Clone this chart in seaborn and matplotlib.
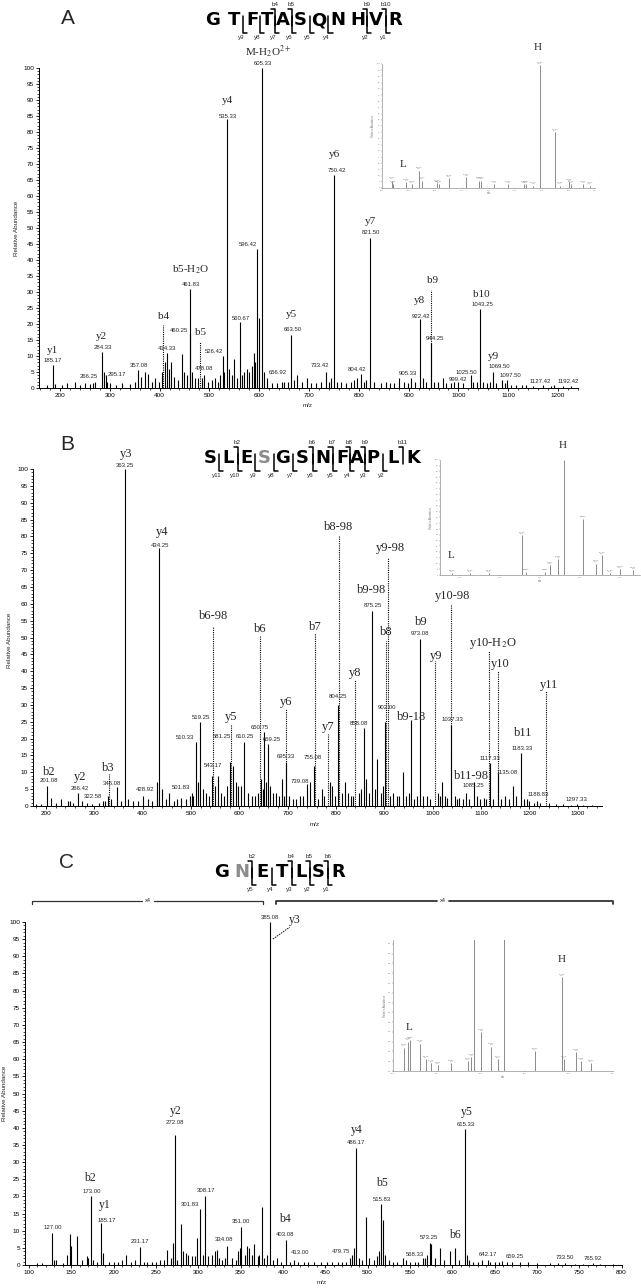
import matplotlib
matplotlib.use("Agg")
import matplotlib.pyplot as plt
import pandas as pd
import seaborn as sns
from matplotlib.lines import Line2D
from matplotlib.ticker import MultipleLocator

W, H = 641, 1288

# ---------------- panel A : GTFTASQNHVR ----------------
a_seq = "GTFTASQNHVR"
a_ycuts = [2, 3, 4, 5, 6, 7, 9, 10]
a_bcuts = [4, 5, 9, 10]
a_mz = [185.17, 266.25, 284.33, 295.17, 357.08, 414.33, 460.25, 461.83, 478.08, 526.42,
        535.33, 560.67, 596.42, 605.33, 656.92, 663.50, 733.42, 750.42, 804.42, 821.50,
        905.33, 922.42, 944.25, 999.42, 1025.50, 1043.25, 1069.50, 1097.50, 1127.42, 1192.42]
a_int = [7.1, 1.5, 11.3, 2.0, 5.5, 11.0, 17.0, 31.0, 3.0, 10.0,
         84.0, 20.5, 43.5, 100.0, 2.0, 16.7, 5.0, 66.5, 4.5, 46.8,
         3.0, 21.5, 14.0, 2.0, 4.0, 24.8, 5.0, 2.5, 1.0, 1.0]
a_noise_mz = [175, 190, 205, 215, 230, 240, 250, 260, 270, 288, 292, 300, 312, 325, 340, 350, 362,
              370, 376, 385, 390, 398, 405, 410, 418, 422, 430, 437, 445, 450, 455, 466, 472, 485,
              490, 498, 505, 512, 518, 522, 530, 540, 546, 550, 555, 565, 570, 575, 580, 585, 589,
              592, 600, 610, 615, 625, 635, 645, 650, 670, 676, 685, 695, 705, 715, 725, 740, 745,
              757, 765, 775, 785, 790, 797, 810, 815, 830, 845, 855, 862, 870, 880, 890, 898, 912,
              928, 935, 950, 958, 968, 975, 985, 992, 1010, 1030, 1037, 1050, 1058, 1063, 1075,
              1088, 1093, 1105, 1115, 1135, 1150, 1170, 1185, 1210, 1225]
a_noise_int = [1, 1.2, 0.8, 1.5, 2, 1, 1.5, 1.2, 2, 5, 4, 1.5, 1, 1.5, 1.2, 2, 3.5,
               5, 4.5, 2, 3, 2, 5, 8, 6, 8, 3.5, 2.5, 10.5, 5, 4, 5, 3, 3,
               4, 2, 2.5, 3, 2, 4, 5, 6, 4, 9, 3, 4, 5, 6, 5, 7, 11,
               8, 22, 5, 3, 1.5, 1.5, 2, 2, 2.5, 4, 2, 3, 1.5, 1.5, 2, 2, 3,
               2, 2, 1.5, 2, 2.5, 3, 2, 2.5, 2, 1.5, 2, 1.5, 1.5, 3, 2, 1.5, 2,
               3, 2, 2, 2, 3, 1.5, 1.5, 2, 1.5, 2, 2, 2, 1.5, 2, 1.5,
               2.5, 1.5, 1, 1, 0.8, 0.7, 0.8, 0.6, 0.5, 0.5]
a_dot_mz = [407, 481, 945]
a_dot_top = [19.6, 14.4, 30.5]
a_ions = ["y1", "y2", "b4", "b5-H$_2$O", "b5", "y4", "M-H$_2$O$^{2+}$", "y5", "y6", "y7",
          "y8", "b9", "b10", "y9"]
a_in_mz = [604.75, 604.82, 605.83, 606.25, 606.75, 607.0, 608.13, 608.25, 609.0, 610.33, 611.25,
           611.45, 612.45, 613.5, 614.67, 614.8, 615.38, 615.88, 617.0, 617.38, 618.08, 618.18,
           619.13, 619.63]
a_in_int = [6, 3, 5, 3, 14, 6, 4, 3, 8, 9, 6, 6, 3, 3, 3, 3, 2, 99, 45, 2, 5, 3, 3, 2]

# ---------------- panel B : SLESGSNFAPLK ----------------
b_seq = "SLESGSNFAPLK"
b_ycuts = [1, 2, 3, 4, 5, 6, 7, 8, 9, 10]
b_bcuts = [2, 6, 7, 8, 9, 11]
b_mz = [201.08, 266.42, 322.58, 346.08, 363.25, 428.92, 434.25, 501.83, 510.33, 519.25,
        543.17, 581.25, 610.25, 650.75, 659.25, 695.33, 739.08, 755.08, 804.25, 858.08,
        875.25, 902.00, 973.08, 1037.33, 1085.25, 1117.33, 1135.08, 1183.33, 1188.83, 1297.33]
b_int = [6.0, 4.0, 1.5, 5.5, 100.0, 2.5, 76.5, 4.0, 19.0, 25.0,
         9.0, 13.0, 19.0, 22.0, 18.5, 13.0, 6.5, 12.0, 30.0, 23.0,
         58.0, 25.0, 49.5, 24.0, 7.0, 12.7, 9.7, 15.7, 2.0, 0.5]
b_noise_mz = [180, 190, 210, 220, 230, 245, 250, 256, 275, 285, 295, 310, 318, 328, 335, 355, 370,
              380, 390, 400, 410, 420, 430, 440, 448, 455, 465, 470, 480, 490, 497, 505, 515, 525,
              530, 538, 550, 555, 562, 568, 574, 587, 592, 598, 603, 618, 625, 632, 638, 645, 648,
              655, 663, 670, 675, 682, 688, 692, 702, 710, 718, 725, 731, 745, 762, 770, 775, 787,
              792, 798, 812, 818, 825, 830, 835, 848, 852, 862, 868, 880, 885, 892, 897, 912, 918,
              925, 930, 939, 945, 950, 955, 962, 967, 980, 987, 994, 1010, 1015, 1020, 1025, 1030,
              1045, 1050, 1055, 1063, 1068, 1075, 1092, 1098, 1105, 1110, 1125, 1142, 1150, 1158,
              1165, 1172, 1195, 1200, 1210, 1215, 1222, 1240, 1255, 1270, 1285, 1310, 1330]
b_noise_int = [0.5, 0.5, 2.5, 1, 2, 1.5, 1.5, 1, 1.5, 1, 0.5, 1, 1.5, 3, 2, 1.5, 2,
               1.5, 1.5, 3, 2, 1.5, 7, 5, 2, 4, 1.5, 2, 2.5, 2, 3, 3, 7, 5,
               4, 3, 6, 9, 4, 3, 6, 12, 7, 6, 6, 4, 3, 3, 4, 8, 5,
               7, 6, 4, 4, 3, 8, 3, 3, 2, 2, 3, 3, 7, 2, 5, 3, 7,
               6, 3, 4, 7, 4, 3, 3, 4, 5, 8, 4, 5, 14, 4, 6, 3, 4,
               3, 3, 10, 3, 4, 25.5, 2, 3, 3, 3, 2, 4, 3, 7, 3, 2.5,
               3, 2, 2.5, 2, 4, 2, 3, 2, 2.5, 2, 2, 2, 3, 2,
               6, 3, 2, 1.5, 1, 1.5, 1, 1, 0.5, 0.5, 0.4, 0.3, 0.3]
b_dot_mz = [330, 546, 583, 643, 696, 756, 783, 805, 840, 903, 908, 1005, 1037, 1117, 1135, 1235]
b_dot_top = [9.5, 53, 24.3, 50.7, 28.7, 51.2, 21.4, 80, 37.4, 49, 73.6, 43, 60, 46, 40, 34]
b_ions = ["b2", "y2", "b3", "y3", "y4", "b6-98", "y5", "b6", "y6", "b7", "y7", "b8-98", "y8",
          "b9-98", "b8", "y9-98", "b9-18", "b9", "y9", "y10-98", "b11-98", "y10-H$_2$O", "y10",
          "b11", "y11"]
b_in_mz = [659.58, 660.5, 661.45, 663.08, 663.3, 664.25, 664.5, 664.92, 665.2, 666.13, 666.78,
           667.08, 667.5, 668.0, 668.67]
b_in_int = [2, 1.5, 1.5, 35, 3, 3, 9, 14, 100, 49, 10, 17, 2, 5, 4]

# ---------------- panel C : GNETLSR ----------------
c_seq = "GNETLSR"
c_ycuts = [2, 3, 4, 5, 6]
c_bcuts = [2, 4, 5, 6]
c_mz = [127.00, 173.00, 185.17, 231.17, 272.08, 301.83, 308.17, 334.08, 351.00, 385.08,
        403.08, 413.00, 479.75, 486.17, 515.83, 568.33, 573.25, 615.33, 642.17, 659.25,
        733.50, 765.92]
c_int = [9.4, 20.0, 12.1, 5.3, 38.0, 16.2, 20.2, 5.5, 11.0, 100.0,
         7.3, 1.5, 2.0, 34.0, 17.8, 2.0, 6.5, 39.6, 1.5, 1.2,
         0.5, 0.5]
c_noise_mz = [110, 115, 130, 132, 140, 145, 148, 150, 157, 163, 168, 170, 176, 180, 187, 195, 200,
              205, 210, 215, 220, 225, 236, 240, 245, 250, 255, 260, 263, 268, 270, 275, 279, 282,
              285, 288, 292, 296, 299, 305, 312, 316, 320, 322, 325, 328, 332, 340, 344, 347, 349,
              355, 357, 360, 363, 366, 370, 372, 375, 378, 381, 388, 393, 398, 408, 418, 425, 430,
              437, 445, 452, 458, 465, 470, 475, 482, 484, 490, 493, 498, 502, 507, 511, 514, 518,
              520, 525, 530, 535, 542, 545, 550, 556, 560, 565, 570, 575, 580, 585, 590, 597, 603,
              608, 617, 620, 625, 630, 635, 645, 650, 655, 665, 670, 680, 690, 700, 715, 725, 745,
              755, 775, 790]
c_noise_int = [0.5, 0.5, 1.5, 1.5, 0.5, 3, 9, 5.5, 8.5, 1.5, 2.5, 2, 1.5, 1, 3.5, 1, 1,
               1, 1.5, 3, 1, 1.5, 1, 1, 1, 1, 1.5, 1.5, 4.5, 2, 6.5, 1.5, 12, 4,
               3.5, 3, 2.5, 2.5, 8, 3, 2.5, 3, 4, 4.5, 2, 1.5, 2, 2, 1.5, 4, 5,
               3, 5.5, 5, 3, 6, 2.5, 3, 17, 2, 3, 1.5, 2, 1, 1, 1, 0.8, 0.8,
               1, 0.8, 1, 1, 1, 1, 1, 3, 5, 2, 1.5, 14, 2, 1.5, 2.5, 4, 13,
               3, 1.5, 1, 1, 2, 1.5, 1, 1, 1, 2, 3, 6, 2, 5, 1.5, 4, 5,
               1.5, 3, 1.5, 1, 1, 1.5, 1, 1, 1, 0.8, 0.8, 1, 1, 0.5, 0.5, 0.5, 0.4,
               0.4, 0.3, 0.3]
c_ions = ["b2", "y1", "y2", "y3", "b4", "y4", "b5", "b6", "y5"]
c_in_mz = [500.5, 500.68, 500.76, 501.24, 501.48, 501.74, 502.05, 502.65, 503.41, 503.56, 503.68,
           504.02, 504.47, 504.77, 505.05, 506.44, 507.68, 507.76, 508.33, 508.56, 509.0]
c_in_int = [1.2, 1.5, 1.6, 1.4, 0.6, 0.4, 0.3, 0.4, 0.5, 0.7, 10, 2.0, 1.25, 0.6, 10, 1.0, 4.8,
            0.6, 0.95, 0.5, 0.4]

# label placement (data coordinates), same order as the lists above
a_num_xy = [(186, 8.7), (257, 3.6), (287, 12.8), (315, 4.2), (358, 7.0), (416, 12.3), (438, 18.0),
            (463, 32.4), (489, 6.0), (509, 11.3), (537, 85.0), (564, 21.7), (578, 45.0),
            (608, 101.3), (638, 5.0), (667, 18.2), (721, 6.9), (756, 68.0), (796, 5.8),
            (824, 48.5), (899, 4.5), (925, 22.5), (953, 15.4), (1000, 2.7), (1016, 5.0),
            (1048, 26.0), (1083, 6.6), (1105, 3.8), (1164, 2.1), (1221, 1.9)]
a_ion_xy = [(186, 11.8), (284, 16), (408, 22.4), (463, 37), (483, 17.5), (537, 89.7), (618, 105),
            (665, 23), (752, 73), (823, 52), (921, 27.4), (947, 33.5), (1045, 29.3), (1071, 9.7)]
b_num_xy = [(206, 7.5), (270, 5.2), (297, 2.8), (337, 6.7), (363, 100.9), (405, 5.0), (436, 77.2),
            (480, 5.5), (488, 20.4), (521, 26.3), (546, 12.0), (563, 20.6), (611, 20.6),
            (643, 23.3), (666, 19.6), (697, 14.6), (726, 7.2), (752, 14.3), (804, 32.6),
            (848, 24.6), (876, 59.4), (905, 29.1), (974, 51.3), (1041, 25.8), (1084, 6.2),
            (1119, 14.0), (1154, 10.0), (1185, 17.2), (1218, 3.3), (1298, 1.8)]
b_ion_xy = [(206, 10), (270, 8.7), (328, 11.2), (365, 104.5), (440, 81.3), (546, 56.5), (583, 26.3),
            (643, 52.5), (697, 31), (756, 53), (784, 23.5), (806, 82.8), (840, 39.4), (874, 64),
            (903, 51.6), (912, 76.6), (957, 26.4), (976, 54.6), (1007, 44.5), (1040, 62.4),
            (1080, 9), (1125, 48.3), (1140, 42), (1187, 21.7), (1241, 36)]
c_num_xy = [(128, 10.9), (174, 21.4), (192, 13.1), (231, 6.8), (272, 41.5), (290, 17.5),
            (309, 21.7), (331, 7.3), (351, 12.6), (385, 101.2), (403, 9.0), (420, 3.6),
            (469, 3.8), (486, 35.6), (517, 19.2), (556, 3.2), (573, 7.9), (616, 41.0),
            (642, 3.2), (674, 2.6), (733, 2.1), (766, 2.0)]
c_ion_xy = [(172, 25.3), (190, 17.5), (273, 45), (414, 100.5), (402, 13.3), (487, 39.4),
            (517, 23.9), (603, 8.7), (617, 44.6)]

sns.set_theme(style="ticks")
plt.rcParams["font.family"] = ["Liberation Sans", "DejaVu Sans"]
plt.rcParams["mathtext.fontset"] = "stix"
plt.rcParams["axes.edgecolor"] = "black"
plt.rcParams["xtick.color"] = "black"
plt.rcParams["ytick.color"] = "black"

fig = plt.figure(figsize=(W / 100, H / 100), dpi=100)
fig.patch.set_facecolor("white")


def fx(px):
    return px / W


def fy(py):
    return 1 - py / H


def box(x0, y0, x1, y1):
    return [x0 / W, 1 - y1 / H, (x1 - x0) / W, (y1 - y0) / H]


def fig_line(xs, ys, **kw):
    fig.add_artist(Line2D([fx(x) for x in xs], [fy(y) for y in ys],
                          transform=fig.transFigure, **kw))


def spectrum(rect, xlim, xmajor, xminor, mz, inten, noise_mz, noise_int, dot_mz, dot_top,
             num_xy, ions, ion_xy, ion_size):
    ax = fig.add_axes(rect)
    sticks = pd.DataFrame({"mz": noise_mz + mz, "inten": noise_int + inten})
    ax.vlines(sticks["mz"], 0, sticks["inten"], color="black", lw=0.8)
    ax.vlines(dot_mz, 0, dot_top, color="black", lw=0.8, linestyles=(0, (1, 1)))
    for m, (x, y) in zip(mz, num_xy):
        ax.text(x, y, f"{m:.2f}", ha="center", va="center", fontsize=4.3, clip_on=False)
    for t, (x, y) in zip(ions, ion_xy):
        ax.text(x, y, t, ha="center", va="center", fontsize=ion_size,
                family="Liberation Serif", clip_on=False)
    ax.set_xlim(*xlim)
    ax.set_ylim(0, 100)
    ax.yaxis.set_major_locator(MultipleLocator(5))
    ax.yaxis.set_minor_locator(MultipleLocator(1))
    ax.xaxis.set_major_locator(MultipleLocator(xmajor))
    ax.xaxis.set_minor_locator(MultipleLocator(xminor))
    ax.tick_params(which="major", length=2.5, width=0.6, labelsize=4.6, pad=1)
    ax.tick_params(which="minor", length=1.3, width=0.5)
    sns.despine(ax=ax)
    for s in ("left", "bottom"):
        ax.spines[s].set_linewidth(0.7)
    ax.patch.set_alpha(0)
    return ax


def inset(rect, mz, inten, xlim, ylim, ystep, lpos, hpos):
    ax = fig.add_axes(rect)
    ax.vlines(mz, 0, inten, color="#777777", lw=0.6)
    for m, v in zip(mz, inten):
        if v < ylim[1]:
            ax.text(m, v + (ylim[1] - ylim[0]) * 0.01, f"{m:.2f}\nz=2", fontsize=1.5,
                    ha="center", va="bottom", color="#777777", linespacing=0.9)
    ax.set_xlim(*xlim)
    ax.set_ylim(*ylim)
    ax.yaxis.set_major_locator(MultipleLocator(ystep))
    ax.tick_params(length=0.8, width=0.3, labelsize=1.6, pad=0.5, colors="#777777")
    ax.set_ylabel("Relative Abundance", fontsize=1.8, labelpad=1, color="#777777")
    ax.set_xlabel("m/z", fontsize=1.8, labelpad=0.5, color="#777777")
    sns.despine(ax=ax)
    for s in ("left", "bottom"):
        ax.spines[s].set_linewidth(0.4)
        ax.spines[s].set_color("#777777")
    ax.patch.set_alpha(0)
    for t, (x, y) in (("L", lpos), ("H", hpos)):
        ax.text(x, y, t, fontsize=8, ha="center", va="center", family="Liberation Serif",
                clip_on=False)
    return ax


def sequence(seq, xs, row, gray, ycuts, bcuts):
    for i, (ch, x) in enumerate(zip(seq, xs)):
        fig.text(fx(x), fy(row), ch, ha="center", va="center", fontsize=13, fontweight="bold",
                 family="DejaVu Sans", color="#8c8c8c" if i in gray else "black")
    n = len(seq)
    for k in ycuts:
        xc = (xs[k - 1] + xs[k]) / 2
        fig_line([xc, xc, xc + 4], [row - 4, row + 13, row + 13], color="black", lw=1.1)
        fig.text(fx(xc - 2), fy(row + 18), f"y{n - k}", ha="center", va="center", fontsize=4.5)
    for k in bcuts:
        xc = (xs[k - 1] + xs[k]) / 2
        fig_line([xc - 4, xc, xc], [row - 11, row - 11, row + 6], color="black", lw=1.1)
        fig.text(fx(xc), fy(row - 16), f"b{k}", ha="center", va="center", fontsize=4.5)


# panel A
spectrum(box(39, 68, 578, 388), (158, 1240), 100, 20, a_mz, a_int, a_noise_mz, a_noise_int,
         a_dot_mz, a_dot_top, a_num_xy, a_ions, a_ion_xy, 8)
inset(box(382, 64, 595, 188), a_in_mz, a_in_int, (604, 620), (0, 100), 5,
      (605.6, 19), (615.7, 113))
sequence(a_seq, [213, 234, 252, 267, 283, 300, 319, 338, 358, 376, 395], 20, [], a_ycuts, a_bcuts)
fig.text(fx(68), fy(18), "A", fontsize=15, ha="center", va="center")
fig.text(fx(17), fy(228), "Relative Abundance", rotation=90, fontsize=4.5, ha="center", va="center")
fig.text(fx(308), fy(405), "m/z", fontsize=4.5, ha="center", va="center")

# panel B
spectrum(box(33, 469, 602, 806), (173, 1350), 100, 20, b_mz, b_int, b_noise_mz, b_noise_int,
         b_dot_mz, b_dot_top, b_num_xy, b_ions, b_ion_xy, 9)
inset(box(440, 460, 640, 575), b_in_mz, b_in_int, (659, 669), (0, 100), 5,
      (659.55, 17), (665.15, 113))
sequence(b_seq, [210, 228, 247, 264, 283, 302, 323, 342, 357, 373, 393, 413], 458, [3],
         b_ycuts, b_bcuts)
fig.text(fx(67), fy(445), "B", fontsize=15, ha="center", va="center")
fig.text(fx(10), fy(640), "Relative Abundance", rotation=90, fontsize=4.5, ha="center", va="center")
fig.text(fx(315), fy(825), "m/z", fontsize=4.5, ha="center", va="center")

# panel C
ax_c = spectrum(box(25, 922, 622, 1265), (95.3, 800.5), 50, 10, c_mz, c_int, c_noise_mz,
                c_noise_int, [], [], c_num_xy, c_ions, c_ion_xy, 8.5)
ax_c.plot([388, 408], [95, 98.5], color="black", lw=0.6, ls=(0, (2, 1)), clip_on=False)
inset(box(393, 940, 613, 1071), c_in_mz, c_in_int, (500, 510), (0, 6.7), 0.5,
      (500.73, 2.25), (507.68, 5.7))
sequence(c_seq, [222, 242, 262, 282, 301, 318, 338], 872, [1], c_ycuts, c_bcuts)
fig.text(fx(67), fy(862), "C", fontsize=15, ha="center", va="center")
fig.text(fx(5), fy(1093), "Relative Abundance", rotation=90, fontsize=4.5, ha="center", va="center")
fig.text(fx(322), fy(1283), "m/z", fontsize=4.5, ha="center", va="center")

# x4 zoom brackets above panel C
fig_line([32, 32, 142], [904, 901, 901], color="#333333", lw=0.9)
fig_line([154, 263, 263], [901, 901, 904], color="#333333", lw=0.9)
fig_line([276, 276, 437], [904, 901, 901], color="#333333", lw=1.3)
fig_line([449, 613, 613], [901, 901, 904], color="#333333", lw=1.3)
fig.text(fx(148), fy(901), "x4", fontsize=4, ha="center", va="center")
fig.text(fx(443), fy(901), "x4", fontsize=4, ha="center", va="center")

fig.savefig("out.png", dpi=100, facecolor="white")
